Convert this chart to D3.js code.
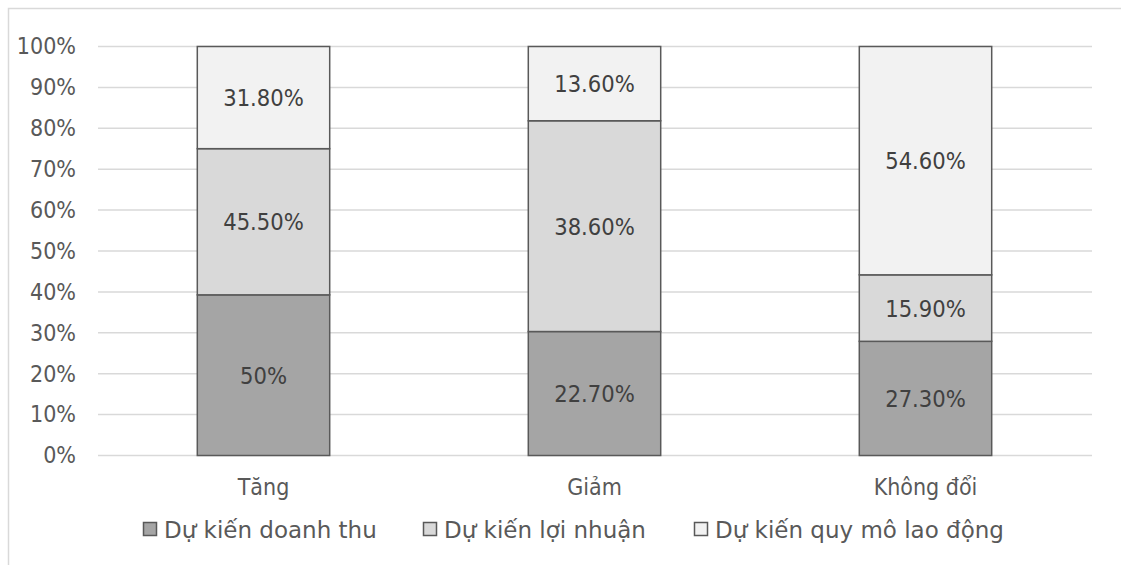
<!DOCTYPE html>
<html>
<head>
<meta charset="utf-8">
<script src="https://cdn.jsdelivr.net/npm/d3@7"></script>
<style>
  html, body { margin: 0; padding: 0; background: #fff; }
  svg { display: block; font-family: "DejaVu Sans Condensed", "DejaVu Sans", sans-serif; font-stretch: condensed; }
  .legend text { font-family: "DejaVu Sans", sans-serif; font-stretch: normal; }
</style>
</head>
<body>
<svg id="chart" width="1121" height="565"></svg>
<script>
const categories = ["Tăng", "Giảm", "Không đổi"];
const seriesNames = ["Dự kiến doanh thu", "Dự kiến lợi nhuận", "Dự kiến quy mô lao động"];
const doanhThu = [50, 22.7, 27.3];
const loiNhuan = [45.5, 38.6, 15.9];
const quyMo = [31.8, 13.6, 54.6];
const labelDoanhThu = ["50%", "22.70%", "27.30%"];
const labelLoiNhuan = ["45.50%", "38.60%", "15.90%"];
const labelQuyMo = ["31.80%", "13.60%", "54.60%"];
const yTicks = [0, 0.1, 0.2, 0.3, 0.4, 0.5, 0.6, 0.7, 0.8, 0.9, 1];
const colors = ["#a5a5a5", "#d9d9d9", "#f2f2f2"];

const svg = d3.select("#chart");

// chart border
svg.append("rect").attr("x", 8.5).attr("y", 8.5).attr("width", 1130).attr("height", 600)
  .attr("fill", "none").attr("stroke", "#d9d9d9").attr("stroke-width", 1.5);

const x = d3.scaleBand().domain(categories).range([98, 1091]).paddingInner(0.6).paddingOuter(0.3);
const y = d3.scaleLinear().domain([0, 1]).range([455.5, 46.5]);

// gridlines
svg.append("g").selectAll("line").data(yTicks).join("line")
  .attr("x1", 98).attr("x2", 1092)
  .attr("y1", d => y(d)).attr("y2", d => y(d))
  .attr("stroke", "#d9d9d9").attr("stroke-width", 1.5);

// y axis labels
const yAxis = d3.axisLeft(y).tickValues(yTicks).tickFormat(d3.format(".0%")).tickSize(0).tickPadding(0);
const gy = svg.append("g").attr("transform", "translate(76,0)").call(yAxis);
gy.select(".domain").remove();
gy.selectAll("text").attr("font-size", 23).attr("fill", "#595959")
  .attr("font-family", "\"DejaVu Sans Condensed\", \"DejaVu Sans\", sans-serif");

// stacked data
const rows = categories.map((c, i) => ({ cat: c, vals: [doanhThu[i], loiNhuan[i], quyMo[i]],
  labels: [labelDoanhThu[i], labelLoiNhuan[i], labelQuyMo[i]] }));
const segs = [];
rows.forEach(r => {
  const total = d3.sum(r.vals);
  let acc = 0;
  r.vals.forEach((v, k) => {
    const y0 = acc / total; acc += v; const y1 = acc / total;
    segs.push({ cat: r.cat, k, y0, y1, label: r.labels[k] });
  });
});

svg.append("g").selectAll("rect").data(segs).join("rect")
  .attr("x", d => x(d.cat)).attr("width", x.bandwidth())
  .attr("y", d => y(d.y1)).attr("height", d => y(d.y0) - y(d.y1))
  .attr("fill", d => colors[d.k]).attr("stroke", "#595959").attr("stroke-width", 1.5);

svg.append("g").selectAll("text").data(segs).join("text")
  .attr("x", d => x(d.cat) + x.bandwidth() / 2)
  .attr("y", d => (y(d.y0) + y(d.y1)) / 2)
  .attr("dy", "0.36em")
  .attr("text-anchor", "middle").attr("font-size", 23.5).attr("fill", "#404040")
  .text(d => d.label);

// category labels
const xAxis = d3.axisBottom(x).tickSize(0).tickPadding(0);
const gx = svg.append("g").attr("transform", "translate(0,495)").call(xAxis);
gx.select(".domain").remove();
gx.selectAll("text").attr("dy", 0).attr("font-size", 23).attr("fill", "#595959")
  .attr("font-family", "\"DejaVu Sans Condensed\", \"DejaVu Sans\", sans-serif");

// legend
const legendX = [143, 423, 694];
const lg = svg.append("g").attr("class", "legend").selectAll("g").data(seriesNames).join("g")
  .attr("transform", (d, i) => `translate(${legendX[i]},0)`);
lg.append("rect").attr("x", 0.5).attr("y", 522.5).attr("width", 13).attr("height", 13)
  .attr("fill", (d, i) => colors[i]).attr("stroke", "#595959").attr("stroke-width", 1.5);
lg.append("text").attr("x", 21).attr("y", 538).attr("font-size", 23).attr("fill", "#595959")
  .text(d => d);
</script>
</body>
</html>
